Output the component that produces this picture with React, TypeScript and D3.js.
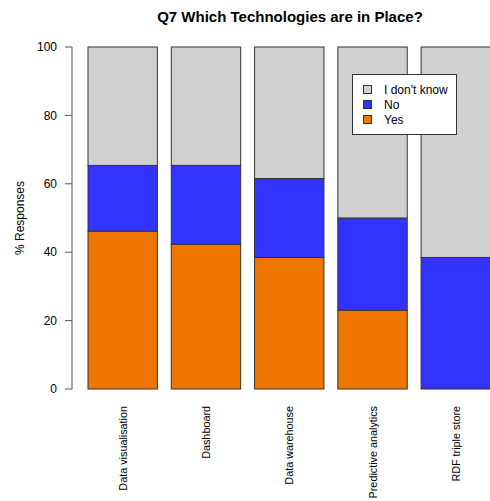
import React from "react";
import * as d3 from "d3";

const categories = ["Data visualisation", "Dashboard", "Data warehouse", "Predictive analytics", "RDF triple store"];
const yesValues = [46.15, 42.31, 38.46, 23.08, 0];
const noValues = [19.23, 23.08, 23.08, 26.92, 38.46];
const dontKnowValues = [34.62, 34.61, 38.46, 50.0, 61.54];
const seriesNames = ["Yes", "No", "I don't know"];
const seriesColors = ["#EE7600", "#3333FF", "#D0D0D0"];
const yTicks = [0, 20, 40, 60, 80, 100];
const legendOrder = ["I don't know", "No", "Yes"];

export default function App() {
  const W = 490, H = 501;
  const font = "Liberation Sans, Arial, Helvetica, sans-serif";
  const y = d3.scaleLinear().domain([0, 100]).range([389, 47]);
  const x = d3.scaleLinear().domain([0.2, 6.0]).range([88, 490.5]);
  const rows = categories.map((c, i) => ({ cat: c, Yes: yesValues[i], No: noValues[i], "I don't know": dontKnowValues[i] }));
  const stack = d3.stack<any>().keys(seriesNames)(rows);
  const colorOf = (k: string) => seriesColors[seriesNames.indexOf(k)];
  return (
    <svg width={W} height={H} style={{ position: "absolute", left: 0, top: 0 }} fontFamily={font}>
      <rect width={W} height={H} fill="#fff" />
      <text x={290} y={22} textAnchor="middle" fontSize={15} fontWeight="bold">Q7 Which Technologies are in Place?</text>
      {stack.map((s) =>
        s.map((d, i) => {
          const left = 0.2 + i * 1.2;
          return (
            <rect key={s.key + i} x={x(left)} y={y(d[1])} width={x(left + 1) - x(left)} height={y(d[0]) - y(d[1])}
              fill={colorOf(s.key)} stroke="#333" strokeWidth={1} />
          );
        })
      )}
      <line x1={72} x2={72} y1={y(0)} y2={y(100)} stroke="#555" />
      {yTicks.map((t) => (
        <g key={t}>
          <line x1={65} x2={72} y1={y(t)} y2={y(t)} stroke="#555" />
          <text x={57} y={y(t)} dy="0.35em" textAnchor="end" fontSize={12}>{t}</text>
        </g>
      ))}
      <text transform={`translate(24,${(y(0) + y(100)) / 2}) rotate(-90)`} textAnchor="middle" fontSize={12}>% Responses</text>
      {categories.map((c, i) => {
        const cx = x(0.2 + i * 1.2 + 0.5);
        return (
          <text key={c} transform={`translate(${cx + 4},406) rotate(-90)`} textAnchor="end" fontSize={10.8}>{c}</text>
        );
      })}
      <rect x={352.5} y={74.5} width={104} height={60} fill="#fff" stroke="#333" />
      {legendOrder.map((k, i) => (
        <g key={k}>
          <rect x={363.5} y={85.5 + i * 15} width={8} height={8} fill={colorOf(k)} stroke="#333" />
          <text x={384} y={89.5 + i * 15} dy="0.35em" fontSize={12}>{k}</text>
        </g>
      ))}
    </svg>
  );
}
